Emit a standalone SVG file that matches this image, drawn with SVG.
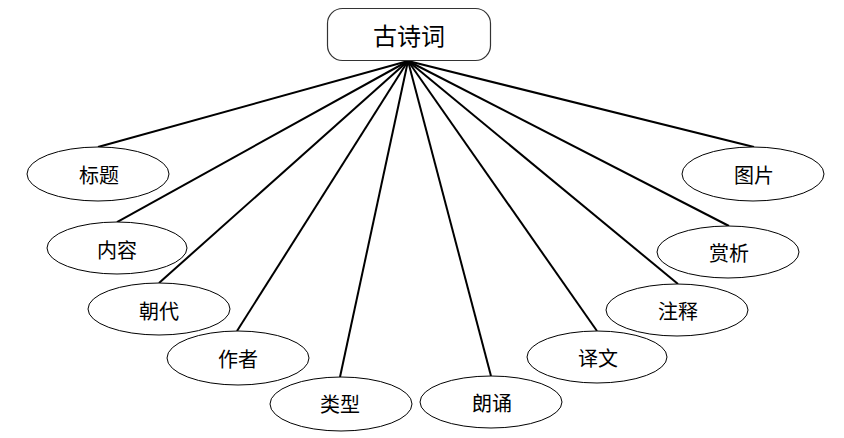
<svg xmlns="http://www.w3.org/2000/svg" width="844" height="438" viewBox="0 0 844 438">
<style>
.n ellipse{fill:#fff;stroke:#000;stroke-width:1}
.n text{font-family:"Noto Sans CJK SC","Noto Sans",sans-serif;font-size:20px;fill:#000;text-anchor:middle;dominant-baseline:central}
.e line{stroke:#000;stroke-width:2}
</style>
<rect width="844" height="438" fill="#fff"/>
<g id="connectors" class="e">
<line x1="408" y1="61" x2="98" y2="147"/>
<line x1="408" y1="61" x2="117" y2="222"/>
<line x1="408" y1="61" x2="159" y2="283"/>
<line x1="408" y1="61" x2="237" y2="331"/>
<line x1="408" y1="61" x2="340" y2="377"/>
<line x1="408" y1="61" x2="491" y2="376"/>
<line x1="408" y1="61" x2="597" y2="331"/>
<line x1="408" y1="61" x2="678" y2="284"/>
<line x1="408" y1="61" x2="729" y2="226"/>
<line x1="408" y1="61" x2="754" y2="147"/>
</g>
<g id="root" class="n">
<rect x="327.5" y="8.5" width="163" height="52" rx="15" fill="#fff" stroke="#333" stroke-width="1.2"/>
<text x="409" y="34" style="font-size:24px">古诗词</text>
</g>
<g id="n-biaoti" class="n"><ellipse cx="98" cy="174" rx="71" ry="27"/><text x="99" y="174">标题</text></g>
<g id="n-neirong" class="n"><ellipse cx="117" cy="248" rx="70" ry="26"/><text x="117" y="249">内容</text></g>
<g id="n-chaodai" class="n"><ellipse cx="159" cy="309" rx="71" ry="26"/><text x="159" y="310">朝代</text></g>
<g id="n-zuozhe" class="n"><ellipse cx="238" cy="358" rx="71" ry="27"/><text x="238" y="358">作者</text></g>
<g id="n-leixing" class="n"><ellipse cx="341" cy="404" rx="71" ry="27"/><text x="340" y="403">类型</text></g>
<g id="n-langsong" class="n"><ellipse cx="491" cy="402" rx="71" ry="26"/><text x="492" y="402">朗诵</text></g>
<g id="n-yiwen" class="n"><ellipse cx="597" cy="357" rx="70" ry="26"/><text x="598" y="357">译文</text></g>
<g id="n-zhushi" class="n"><ellipse cx="677" cy="310" rx="71" ry="26"/><text x="678" y="310">注释</text></g>
<g id="n-shangxi" class="n"><ellipse cx="728" cy="252" rx="71" ry="26"/><text x="729" y="252">赏析</text></g>
<g id="n-tupian" class="n"><ellipse cx="753" cy="174" rx="71" ry="27"/><text x="754" y="174">图片</text></g>
</svg>
